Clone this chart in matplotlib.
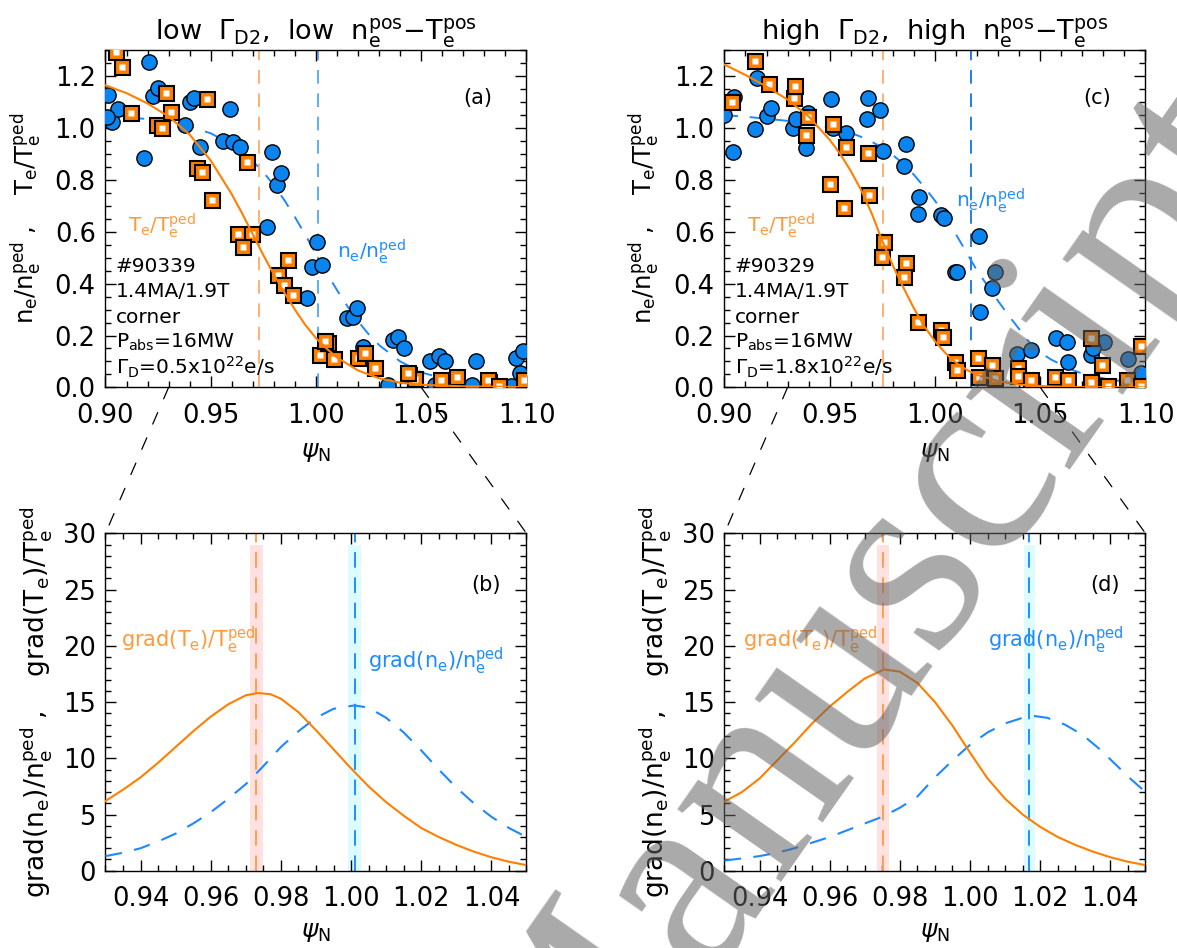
import matplotlib
matplotlib.use("Agg")
import matplotlib.pyplot as plt
from matplotlib.patches import ConnectionPatch
from matplotlib.ticker import MultipleLocator, FormatStrFormatter

plt.rcParams['font.family'] = ['DejaVu Sans']
plt.rcParams['mathtext.default'] = 'regular'

# ---------------- profile data, shot #90339 (low fuelling) ----------------
a_ne_x = [0.9013, 0.9032, 0.9058, 0.9006, 0.9183, 0.9208, 0.9224, 0.9251, 0.9378, 0.9402,
          0.9422, 0.9449, 0.9560, 0.9592, 0.9608, 0.9640, 0.9767, 0.9790, 0.9814, 0.9833,
          0.9957, 0.9981, 1.0004, 1.0028, 1.0147, 1.0176, 1.0195, 1.0223, 1.0366, 1.0390,
          1.0416, 1.0340, 1.0543, 1.0586, 1.0615, 1.0761, 1.0742, 1.0565, 1.0952, 1.0985,
          1.0969, 1.0927]
a_ne_y = [1.128, 1.025, 1.074, 1.044, 0.886, 1.256, 1.125, 1.153, 1.012, 1.099,
          1.115, 0.928, 0.950, 1.074, 0.945, 0.928, 0.620, 0.909, 0.780, 0.826,
          0.343, 0.465, 0.562, 0.472, 0.266, 0.272, 0.307, 0.157, 0.182, 0.193,
          0.150, 0.009, 0.101, 0.122, 0.101, 0.101, 0.009, 0.010, 0.113, 0.142,
          0.055, 0.006]
a_te_x = [0.9048, 0.9077, 0.9121, 0.9243, 0.9267, 0.9288, 0.9312, 0.9481, 0.9434, 0.9460,
          0.9508, 0.9674, 0.9629, 0.9698, 0.9655, 0.9866, 0.9822, 0.9850, 0.9893, 1.0020,
          1.0055, 1.0044, 1.0087, 1.0202, 1.0234, 1.0282, 1.0440, 1.0472, 1.0599, 1.0670,
          1.0821, 1.0817, 1.0868, 1.0986, 1.0596, 1.0469, 1.0435]
a_te_y = [1.292, 1.235, 1.057, 1.012, 1.002, 1.137, 1.063, 1.112, 0.847, 0.829,
          0.723, 0.871, 0.591, 0.591, 0.543, 0.491, 0.433, 0.395, 0.356, 0.125,
          0.170, 0.179, 0.108, 0.112, 0.131, 0.073, 0.047, 0.031, 0.022, 0.041,
          0.022, 0.030, 0.006, 0.030, 0.030, 0.032, 0.055]

# fitted profiles
a_tefit_x = [0.900, 0.910, 0.920, 0.930, 0.940, 0.950, 0.960, 0.965, 0.970, 0.975, 0.980,
             0.985, 0.990, 0.995, 1.000, 1.005, 1.010, 1.020, 1.030, 1.040, 1.050, 1.070, 1.100]
a_tefit_y = [1.165, 1.135, 1.095, 1.045, 0.975, 0.875, 0.745, 0.670, 0.590, 0.510, 0.435,
             0.365, 0.300, 0.240, 0.190, 0.150, 0.115, 0.065, 0.035, 0.018, 0.010, 0.004, 0.001]
a_nefit_x = [0.900, 0.920, 0.930, 0.940, 0.950, 0.960, 0.970, 0.975, 0.980, 0.985, 0.990,
             0.995, 1.000, 1.005, 1.010, 1.015, 1.020, 1.025, 1.030, 1.040, 1.050, 1.060,
             1.070, 1.080, 1.100]
a_nefit_y = [1.048, 1.035, 1.024, 1.006, 0.980, 0.937, 0.872, 0.830, 0.780, 0.722, 0.657,
             0.587, 0.515, 0.443, 0.375, 0.312, 0.255, 0.205, 0.163, 0.100, 0.058, 0.035,
             0.021, 0.012, 0.004]

# ---------------- profile data, shot #90329 (high fuelling) ----------------
c_ne_x = [0.9044, 0.9039, 0.9000, 0.9143, 0.9155, 0.9203, 0.9222, 0.9324, 0.9340, 0.9388,
          0.9399, 0.9507, 0.9514, 0.9578, 0.9681, 0.9678, 0.9741, 0.9752, 0.9863, 0.9852,
          0.9926, 0.9918, 1.0029, 1.0042, 1.0207, 1.0097, 1.0105, 1.0283, 1.0270, 1.0216,
          1.0390, 1.0457, 1.0576, 1.0628, 1.0634, 1.0742, 1.0803, 1.0916, 1.0981, 1.0750]
c_ne_y = [1.121, 0.909, 1.050, 0.997, 1.192, 1.047, 1.076, 0.999, 1.035, 0.922,
          1.057, 1.112, 0.999, 0.980, 1.115, 1.035, 1.070, 0.912, 0.937, 0.855,
          0.735, 0.667, 0.665, 0.652, 0.584, 0.446, 0.444, 0.446, 0.384, 0.292,
          0.127, 0.144, 0.191, 0.176, 0.099, 0.125, 0.175, 0.111, 0.055, 0.152]
c_te_x = [0.9146, 0.9035, 0.9214, 0.9329, 0.9336, 0.9396, 0.9388, 0.9514, 0.9578, 0.9681,
          0.9502, 0.9570, 0.9689, 0.9757, 0.9747, 0.9863, 0.9852, 0.9918, 1.0029, 1.0037,
          1.0097, 1.0105, 1.0203, 1.0270, 1.0211, 1.0283, 1.0393, 1.0393, 1.0457, 1.0568,
          1.0631, 1.0739, 1.0742, 1.0794, 1.0911, 1.0977, 1.0977, 1.0820]
c_te_y = [1.259, 1.102, 1.169, 1.115, 1.164, 1.044, 0.973, 1.015, 0.928, 0.903,
          0.783, 0.693, 0.742, 0.559, 0.502, 0.478, 0.427, 0.253, 0.221, 0.195,
          0.099, 0.067, 0.112, 0.086, 0.041, 0.035, 0.073, 0.045, 0.028, 0.041,
          0.028, 0.189, 0.022, 0.088, 0.030, 0.159, 0.004, 0.004]

c_tefit_x = [0.900, 0.910, 0.920, 0.930, 0.940, 0.950, 0.955, 0.960, 0.965, 0.970, 0.975,
             0.980, 0.985, 0.990, 0.995, 1.000, 1.005, 1.010, 1.015, 1.020, 1.030, 1.040,
             1.050, 1.070, 1.100]
c_tefit_y = [1.245, 1.205, 1.160, 1.110, 1.045, 0.955, 0.900, 0.835, 0.760, 0.670, 0.565,
             0.470, 0.385, 0.305, 0.235, 0.178, 0.132, 0.095, 0.068, 0.048, 0.024, 0.011,
             0.005, 0.001, 0.000]
c_nefit_x = [0.900, 0.910, 0.920, 0.930, 0.940, 0.950, 0.960, 0.965, 0.970, 0.975, 0.980,
             0.985, 0.990, 0.995, 1.000, 1.005, 1.010, 1.015, 1.020, 1.025, 1.030, 1.035,
             1.040, 1.045, 1.050, 1.055, 1.060, 1.065, 1.070, 1.080, 1.090, 1.100]
c_nefit_y = [1.050, 1.044, 1.036, 1.028, 1.018, 1.003, 0.982, 0.966, 0.947, 0.925, 0.896,
             0.862, 0.820, 0.772, 0.720, 0.660, 0.590, 0.520, 0.450, 0.392, 0.333, 0.277,
             0.225, 0.172, 0.135, 0.108, 0.088, 0.068, 0.053, 0.035, 0.022, 0.014]

# ---------------- normalised gradients ----------------
b_gte_x = [0.930, 0.935, 0.940, 0.945, 0.950, 0.955, 0.960, 0.965, 0.970, 0.9735, 0.977,
           0.980, 0.985, 0.990, 0.995, 1.000, 1.005, 1.010, 1.015, 1.020, 1.025, 1.030,
           1.035, 1.040, 1.045, 1.050]
b_gte_y = [6.2, 7.2, 8.3, 9.6, 11.0, 12.4, 13.7, 14.8, 15.6, 15.8, 15.7,
           15.3, 14.1, 12.5, 10.8, 9.1, 7.5, 6.1, 4.9, 3.8, 3.0, 2.3,
           1.7, 1.2, 0.8, 0.5]
b_gne_x = [0.930, 0.935, 0.940, 0.945, 0.950, 0.955, 0.960, 0.965, 0.970, 0.975, 0.980,
           0.985, 0.990, 0.995, 1.001, 1.005, 1.010, 1.015, 1.020, 1.025, 1.030, 1.035,
           1.040, 1.045, 1.050]
b_gne_y = [1.3, 1.6, 2.0, 2.6, 3.3, 4.2, 5.2, 6.4, 7.7, 9.3, 11.0,
           12.4, 13.6, 14.4, 14.7, 14.5, 13.6, 12.3, 10.7, 9.0, 7.4, 6.0,
           4.8, 3.8, 3.0]
d_gte_x = [0.930, 0.935, 0.940, 0.945, 0.950, 0.955, 0.960, 0.965, 0.970, 0.9755, 0.980,
           0.985, 0.990, 0.995, 1.000, 1.005, 1.010, 1.015, 1.020, 1.025, 1.030, 1.035,
           1.040, 1.045, 1.050]
d_gte_y = [6.15, 7.0, 8.2, 9.8, 11.4, 13.1, 14.6, 15.9, 17.1, 17.9, 17.7,
           16.7, 15.0, 12.9, 10.5, 8.2, 6.4, 5.0, 3.9, 3.0, 2.3, 1.7,
           1.2, 0.8, 0.5]
d_gne_x = [0.930, 0.935, 0.940, 0.945, 0.950, 0.955, 0.960, 0.965, 0.970, 0.975, 0.980,
           0.985, 0.990, 0.995, 1.000, 1.005, 1.010, 1.015, 1.0185, 1.022, 1.027, 1.032,
           1.037, 1.042, 1.046, 1.050]
d_gne_y = [0.9, 1.1, 1.3, 1.6, 2.0, 2.5, 3.0, 3.6, 4.2, 4.8, 5.6,
           6.6, 8.3, 9.8, 11.2, 12.3, 13.1, 13.6, 13.75, 13.6, 13.0, 12.1,
           10.8, 9.3, 8.1, 7.0]

# pedestal positions (max gradient) and their uncertainty bands
a_te_pos, a_ne_pos = 0.9730, 1.0010
c_te_pos, c_ne_pos = 0.9752, 1.0169
b_te_band = (0.9712, 0.9749)
b_ne_band = (0.9992, 1.0029)
d_te_band = (0.9735, 0.9768)
d_ne_band = (1.0153, 1.0184)

titles = [r'low  $\Gamma_{D2}$,  low  n$_e^{pos}$$-$T$_e^{pos}$',
          r'high  $\Gamma_{D2}$,  high  n$_e^{pos}$$-$T$_e^{pos}$']
shot_info = [['#90339', '1.4MA/1.9T', 'corner', r'P$_{abs}$=16MW',
              r'$\Gamma_D$=0.5x10$^{22}$e/s'],
             ['#90329', '1.4MA/1.9T', 'corner', r'P$_{abs}$=16MW',
              r'$\Gamma_D$=1.8x10$^{22}$e/s']]
psi_label = r'$\mathit{\psi}_N$'

ORANGE = '#ff7f00'
BLUE = '#0a85f0'
BLUE_LINE = '#1e88ff'
TXT_OR = '#ff9a3c'
TXT_BL = '#1e8cff'

fig = plt.figure(figsize=(11.77, 9.48), dpi=100)
W = 0.3577
ax_a = fig.add_axes([0.0896, 0.5914, W, 0.3555])
ax_c = fig.add_axes([0.6155, 0.5914, W, 0.3555])
ax_b = fig.add_axes([0.0896, 0.0815, W, 0.3559])
ax_d = fig.add_axes([0.6155, 0.0815, W, 0.3559])


def style_axis(ax, xmaj, xmin, ymaj, ymin, xfmt, yfmt):
    ax.xaxis.set_major_locator(MultipleLocator(xmaj))
    ax.xaxis.set_minor_locator(MultipleLocator(xmin))
    ax.yaxis.set_major_locator(MultipleLocator(ymaj))
    ax.yaxis.set_minor_locator(MultipleLocator(ymin))
    ax.xaxis.set_major_formatter(FormatStrFormatter(xfmt))
    ax.yaxis.set_major_formatter(FormatStrFormatter(yfmt))
    ax.tick_params(which='both', direction='in', top=True, right=True, width=1.0)
    ax.tick_params(which='major', length=8)
    ax.tick_params(which='minor', length=4)
    ax.tick_params(axis='x', which='major', labelsize=18.5, pad=11)
    ax.tick_params(axis='y', which='major', labelsize=18.5, pad=7)
    for sp in ax.spines.values():
        sp.set_linewidth(1.0)


def squares(ax, xs, ys):
    z = 5
    for x, y in zip(xs, ys):
        ax.plot([x], [y], ls='none', marker='s', ms=10.8, mfc=ORANGE, mec='black',
                mew=1.5, zorder=z)
        ax.plot([x], [y], ls='none', marker='s', ms=4.8, mfc='white', mec='none',
                zorder=z + 0.5)
        z += 1


def profile_panel(ax, ne_x, ne_y, te_x, te_y, nefx, nefy, tefx, tefy,
                  te_pos, ne_pos, ne_vcol, title, info, label, ne_lab_y):
    ax.set_xlim(0.90, 1.10)
    ax.set_ylim(0.0, 1.3)
    style_axis(ax, 0.05, 0.01, 0.2, 0.05, '%.2f', '%.1f')
    ax.axvline(te_pos, color='#ffb070', lw=1.4, ls=(0, (7, 5)), zorder=1)
    ax.axvline(ne_pos, color=ne_vcol, lw=1.4, ls=(0, (7, 5)), zorder=1)
    ax.plot(nefx, nefy, color=BLUE_LINE, lw=1.4, ls=(0, (7, 6)), zorder=2)
    ax.plot(ne_x, ne_y, ls='none', marker='o', ms=11, mfc=BLUE, mec='black',
            mew=1.0, zorder=3)
    squares(ax, te_x, te_y)
    ax.plot(tefx, tefy, color=ORANGE, lw=1.5, zorder=200)
    ax.set_title(title, fontsize=19.5, pad=5)
    ax.set_xlabel(psi_label, fontsize=18, labelpad=8)
    ax.set_ylabel(r'n$_e$/n$_e^{ped}$ ,    T$_e$/T$_e^{ped}$', fontsize=17.5, labelpad=8)
    bl = [0.343, 0.267, 0.190, 0.117, 0.039]
    for s, yb in zip(info, bl):
        ax.text(0.024, yb, s, transform=ax.transAxes, fontsize=14.5, va='baseline',
                ha='left', zorder=300)
    ax.text(0.885, 0.858, label, transform=ax.transAxes, fontsize=15,
            ha='center', va='center')
    ax.text(0.054, 0.462, r'T$_e$/T$_e^{ped}$', transform=ax.transAxes,
            fontsize=14.5, color=TXT_OR, va='baseline', zorder=300)
    ax.text(0.550, ne_lab_y, r'n$_e$/n$_e^{ped}$', transform=ax.transAxes,
            fontsize=14.5, color=TXT_BL, va='baseline', zorder=300)


def gradient_panel(ax, gte_x, gte_y, gne_x, gne_y, te_band, ne_band,
                   te_pos, ne_pos, label, te_lab, ne_lab):
    ax.set_xlim(0.93, 1.05)
    ax.set_ylim(0, 30)
    style_axis(ax, 0.02, 0.005, 5, 1, '%.2f', '%d')
    ax.fill_between(te_band, 0, 29, color='#ffe1e1', lw=0, zorder=1)
    ax.fill_between(ne_band, 0, 29, color='#ddfcff', lw=0, zorder=1)
    ax.axvline(te_pos, color='#ffa050', lw=1.4, ls=(0, (8, 5)), zorder=2)
    ax.axvline(ne_pos, color='#1f8fff', lw=1.4, ls=(0, (8, 5)), zorder=2)
    ax.plot(gne_x, gne_y, color=BLUE_LINE, lw=1.5, ls=(0, (8, 6)), zorder=3)
    ax.plot(gte_x, gte_y, color=ORANGE, lw=1.5, zorder=4)
    ax.set_xlabel(psi_label, fontsize=18, labelpad=6)
    ax.set_ylabel(r'grad(n$_e$)/n$_e^{ped}$ ,    grad(T$_e$)/T$_e^{ped}$',
                  fontsize=19, labelpad=6)
    ax.text(0.905, 0.847, label, transform=ax.transAxes, fontsize=15,
            ha='center', va='center')
    ax.text(te_lab[0], te_lab[1], r'grad(T$_e$)/T$_e^{ped}$', fontsize=15,
            color=TXT_OR, va='center')
    ax.text(ne_lab[0], ne_lab[1], r'grad(n$_e$)/n$_e^{ped}$', fontsize=15,
            color=TXT_BL, va='center')


profile_panel(ax_a, a_ne_x, a_ne_y, a_te_x, a_te_y, a_nefit_x, a_nefit_y,
              a_tefit_x, a_tefit_y, a_te_pos, a_ne_pos, '#5aaeff',
              titles[0], shot_info[0], '(a)', 0.383)
profile_panel(ax_c, c_ne_x, c_ne_y, c_te_x, c_te_y, c_nefit_x, c_nefit_y,
              c_tefit_x, c_tefit_y, c_te_pos, c_ne_pos, '#2080e0',
              titles[1], shot_info[1], '(c)', 0.536)
gradient_panel(ax_b, b_gte_x, b_gte_y, b_gne_x, b_gne_y, b_te_band, b_ne_band,
               a_te_pos, a_ne_pos, '(b)', (0.9345, 20.5), (1.0048, 18.6))
gradient_panel(ax_d, d_gte_x, d_gte_y, d_gne_x, d_gne_y, d_te_band, d_ne_band,
               c_te_pos, c_ne_pos, '(d)', (0.9353, 20.5), (1.0050, 20.5))

# dashed lines showing the zoomed ψ range
for top, bot in ((ax_a, ax_b), (ax_c, ax_d)):
    for xa, xb in ((0.93, 0.0), (1.05, 1.0)):
        con = ConnectionPatch(xyA=(xa, 0.0), coordsA=top.transData,
                              xyB=(xb, 1.0), coordsB=bot.transAxes,
                              color='black', lw=0.9, ls=(0, (10, 12)))
        fig.add_artist(con)

fig.text(0.739, 0.336, 'Manuscript', rotation=55, rotation_mode='anchor',
         fontsize=198, family='Liberation Serif', color=(0.39, 0.39, 0.39),
         alpha=0.55, ha='center', va='center', zorder=1000)

fig.savefig('out.png', dpi=100)
